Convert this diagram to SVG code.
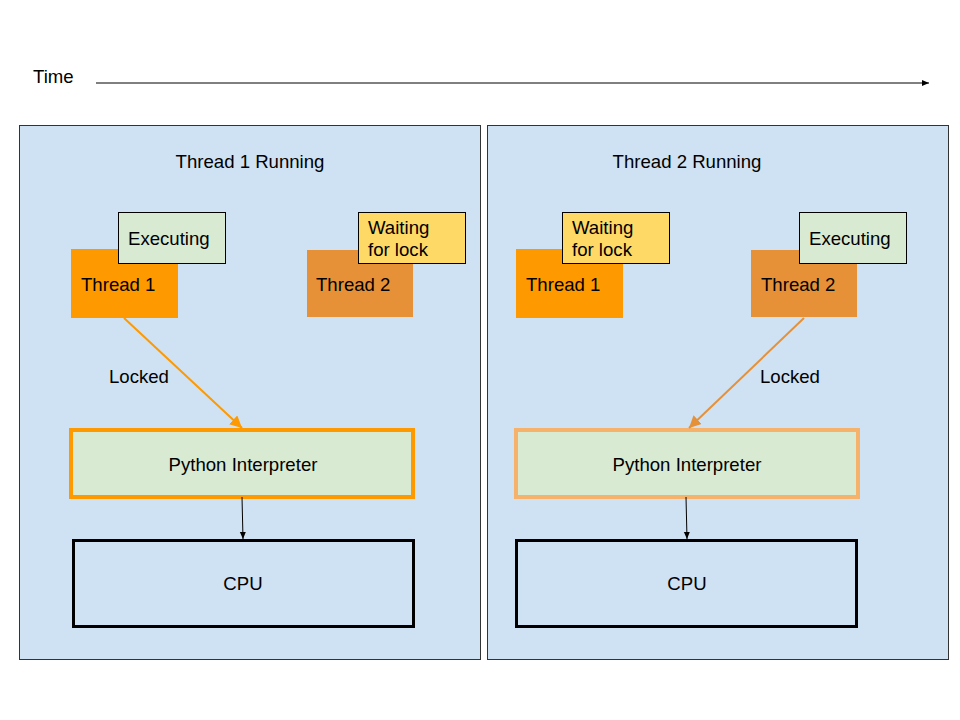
<svg xmlns="http://www.w3.org/2000/svg" width="960" height="720" viewBox="0 0 960 720">
<style>
text{font-family:"Liberation Sans",Arial,sans-serif;font-size:18.6px;fill:#000}
.panel{fill:#cfe2f3;stroke:#333;stroke-width:1}
.t1{fill:#ff9900}
.t2{fill:#e69138}
.exec{fill:#d9ead3;stroke:#000;stroke-width:1}
.wait{fill:#ffd966;stroke:#000;stroke-width:1}
.cpu{fill:none;stroke:#000;stroke-width:3}
.mid{text-anchor:middle}
</style>
<defs>
<marker id="ab" markerWidth="8" markerHeight="8" refX="7" refY="4" orient="auto" markerUnits="userSpaceOnUse"><path d="M0,1 L7,4 L0,7 z" fill="#000"/></marker>
<marker id="ao" markerWidth="14" markerHeight="12" refX="12" refY="6" orient="auto" markerUnits="userSpaceOnUse"><path d="M0,0 L12,6 L0,12 z" fill="#ff9900"/></marker>
<marker id="ao2" markerWidth="14" markerHeight="12" refX="12" refY="6" orient="auto" markerUnits="userSpaceOnUse"><path d="M0,0 L12,6 L0,12 z" fill="#e69138"/></marker>
</defs>
<rect width="960" height="720" fill="#fff"/>
<g id="time">
<text x="33" y="83">Time</text>
</g>
<g id="panel1">
<rect class="panel" x="19.5" y="125.5" width="461" height="534"/>
<text class="mid" x="250" y="168">Thread 1 Running</text>
</g>
<g id="panel2">
<rect class="panel" x="487.5" y="125.5" width="461" height="534"/>
<text class="mid" x="687" y="168">Thread 2 Running</text>
</g>
<g id="p1-thread1">
<rect class="t1" x="71" y="249" width="107" height="69"/>
<text x="81" y="291">Thread 1</text>
</g>
<g id="p1-exec">
<rect class="exec" x="118.5" y="212.5" width="107" height="51"/>
<text x="128" y="245">Executing</text>
</g>
<g id="p1-thread2">
<rect class="t2" x="307" y="250" width="106" height="67"/>
<text x="316" y="291">Thread 2</text>
</g>
<g id="p1-wait">
<rect class="wait" x="358.5" y="212.5" width="107" height="51"/>
<text x="368" y="234">Waiting</text>
<text x="368" y="256">for lock</text>
</g>
<g id="p1-interp">
<rect x="71" y="430" width="342" height="67" fill="#d9ead3" stroke="#ff9900" stroke-width="4"/>
<text class="mid" x="243" y="471">Python Interpreter</text>
</g>
<g id="p1-cpu">
<rect class="cpu" x="73.5" y="540.5" width="340" height="86"/>
<text class="mid" x="243" y="590">CPU</text>
</g>
<g id="p2-thread1">
<rect class="t1" x="516" y="249" width="107" height="69"/>
<text x="526" y="291">Thread 1</text>
</g>
<g id="p2-wait">
<rect class="wait" x="562.5" y="212.5" width="107" height="51"/>
<text x="572" y="234">Waiting</text>
<text x="572" y="256">for lock</text>
</g>
<g id="p2-thread2">
<rect class="t2" x="751" y="250" width="106" height="67"/>
<text x="761" y="291">Thread 2</text>
</g>
<g id="p2-exec">
<rect class="exec" x="799.5" y="212.5" width="107" height="51"/>
<text x="809" y="245">Executing</text>
</g>
<g id="p2-interp">
<rect x="516" y="430" width="342" height="67" fill="#d9ead3" stroke="#f6b26b" stroke-width="4"/>
<text class="mid" x="687" y="471">Python Interpreter</text>
</g>
<g id="p2-cpu">
<rect class="cpu" x="516.5" y="540.5" width="340" height="86"/>
<text class="mid" x="687" y="590">CPU</text>
</g>
<g id="connectors">
<line x1="96" y1="83" x2="929" y2="83" stroke="#000" stroke-width="1" marker-end="url(#ab)"/>
<line x1="124" y1="318" x2="242" y2="428" stroke="#ff9900" stroke-width="2" marker-end="url(#ao)"/>
<line x1="804" y1="318" x2="689" y2="428" stroke="#e69138" stroke-width="2" marker-end="url(#ao2)"/>
<line x1="242" y1="497" x2="243" y2="539" stroke="#000" stroke-width="1" marker-end="url(#ab)"/>
<line x1="686" y1="497" x2="687" y2="539" stroke="#000" stroke-width="1" marker-end="url(#ab)"/>
<text x="109" y="383">Locked</text>
<text x="760" y="383">Locked</text>
</g>
</svg>
